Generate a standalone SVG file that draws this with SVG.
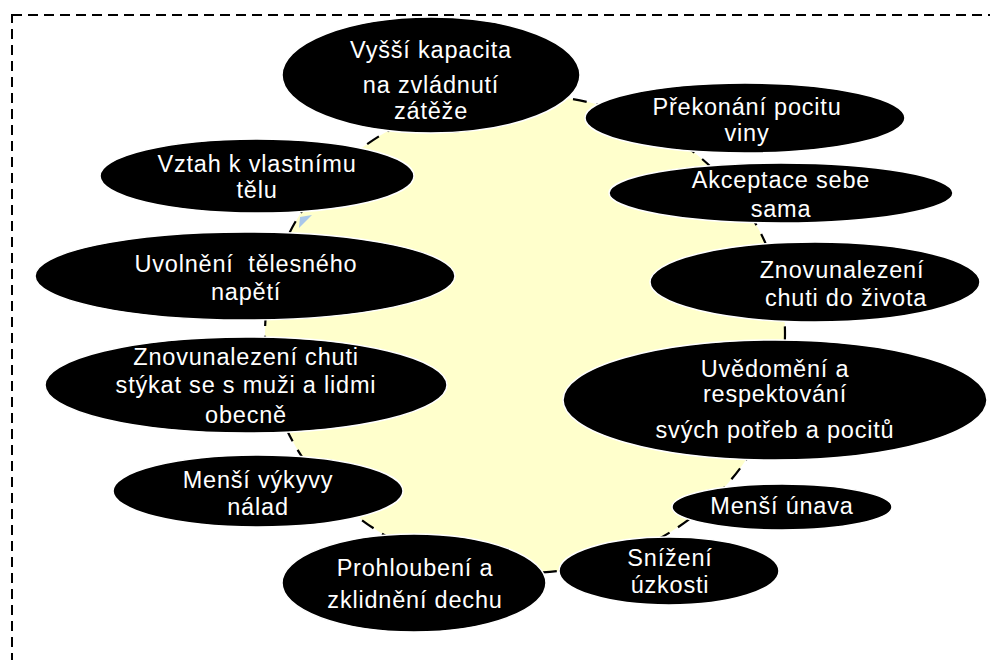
<svg xmlns="http://www.w3.org/2000/svg" width="990" height="660" viewBox="0 0 990 660">
  <style>
    .frame { fill: none; stroke: #000; stroke-width: 2; stroke-dasharray: 10 6; }
    .cycle { fill: #FFFFCC; stroke: #000; stroke-width: 2.2; stroke-dasharray: 14 10; }
    .node ellipse { fill: #000; stroke: #fff; stroke-width: 1.5; }
    .node text { fill: #fff; font-family: "Liberation Sans", Arial, sans-serif; font-size: 23.5px; letter-spacing: 0.8px; text-anchor: middle; }
    .tip { fill: #A9C7EA; }
  </style>

  <rect class="frame" x="12" y="15" width="1000" height="700"/>

  <g id="connectors">
    <ellipse class="cycle" cx="525" cy="334" rx="260" ry="239"/>
    <polygon class="tip" points="300,217 312,215 299,228"/>
  </g>

  <g id="n1" class="node">
    <ellipse cx="431" cy="75" rx="149" ry="58"/>
    <text x="431" y="58">Vyšší kapacita</text>
    <text x="431" y="93">na zvládnutí</text>
    <text x="431" y="119">zátěže</text>
  </g>
  <g id="n2" class="node">
    <ellipse cx="745" cy="118" rx="160" ry="35"/>
    <text x="747" y="115">Překonání pocitu</text>
    <text x="747" y="141">viny</text>
  </g>
  <g id="n3" class="node">
    <ellipse cx="781" cy="193" rx="172" ry="30"/>
    <text x="781" y="188">Akceptace sebe</text>
    <text x="781" y="217">sama</text>
  </g>
  <g id="n4" class="node">
    <ellipse cx="815" cy="282" rx="165" ry="40"/>
    <text x="842" y="278">Znovunalezení</text>
    <text x="846" y="306">chuti do života</text>
  </g>
  <g id="n5" class="node">
    <ellipse cx="775" cy="400" rx="212" ry="60"/>
    <text x="775" y="377">Uvědomění a</text>
    <text x="775" y="402">respektování</text>
    <text x="775" y="438">svých potřeb a pocitů</text>
  </g>
  <g id="n6" class="node">
    <ellipse cx="782" cy="507" rx="110" ry="23"/>
    <text x="782" y="514">Menší únava</text>
  </g>
  <g id="n7" class="node">
    <ellipse cx="669" cy="571" rx="110" ry="34"/>
    <text x="670" y="566">Snížení</text>
    <text x="670" y="593">úzkosti</text>
  </g>
  <g id="n8" class="node">
    <ellipse cx="414" cy="583" rx="132" ry="49"/>
    <text x="415" y="576">Prohloubení a</text>
    <text x="415" y="608">zklidnění dechu</text>
  </g>
  <g id="n9" class="node">
    <ellipse cx="258" cy="491" rx="145" ry="36"/>
    <text x="258" y="488">Menší výkyvy</text>
    <text x="258" y="515">nálad</text>
  </g>
  <g id="n10" class="node">
    <ellipse cx="246" cy="385" rx="201" ry="48"/>
    <text x="246" y="365">Znovunalezení chuti</text>
    <text x="246" y="393">stýkat se s muži a lidmi</text>
    <text x="246" y="423">obecně</text>
  </g>
  <g id="n11" class="node">
    <ellipse cx="245" cy="276" rx="210" ry="44"/>
    <text x="246" y="272" xml:space="preserve">Uvolnění  tělesného</text>
    <text x="246" y="300">napětí</text>
  </g>
  <g id="n12" class="node">
    <ellipse cx="257" cy="176" rx="157" ry="37"/>
    <text x="257" y="172">Vztah k vlastnímu</text>
    <text x="257" y="198">tělu</text>
  </g>
</svg>
